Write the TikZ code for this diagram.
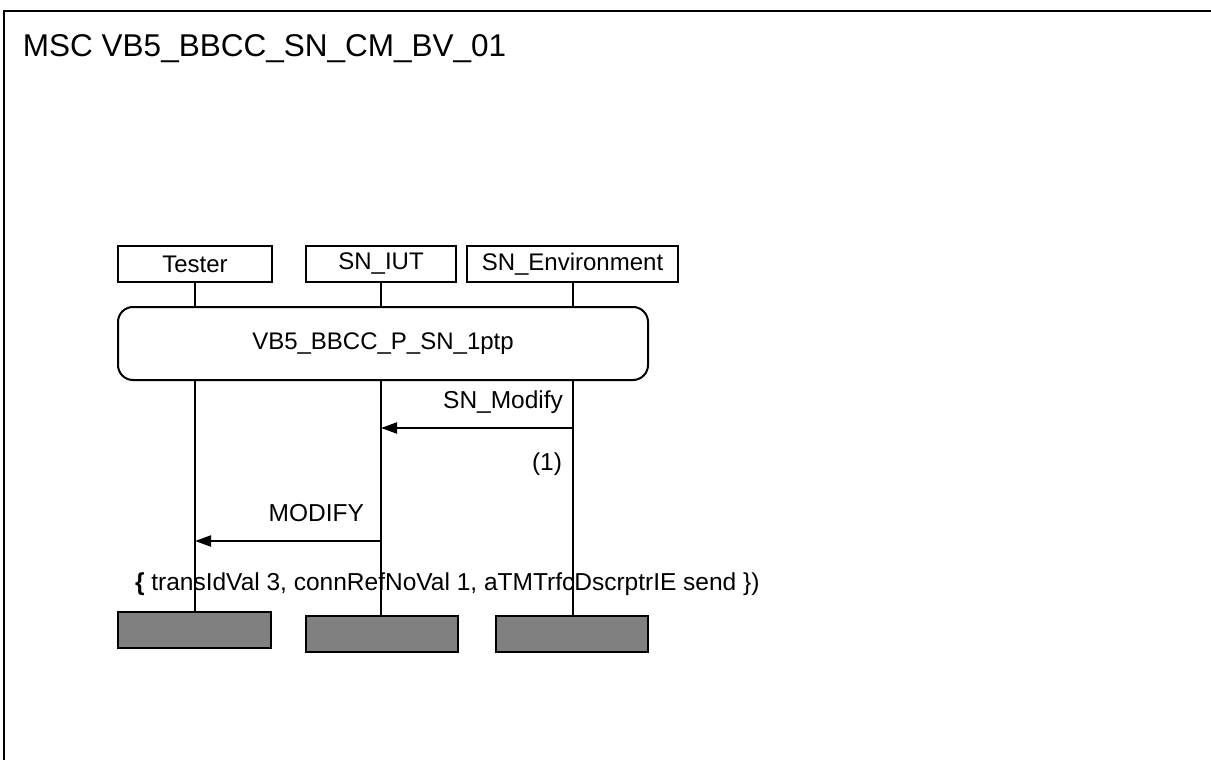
\documentclass[tikz,border=0pt]{standalone}
\usepackage{fontspec}
\setmainfont{Liberation Sans}
\usetikzlibrary{arrows.meta}
\begin{document}
\begin{tikzpicture}[x=1pt,y=-1pt,line width=2pt,
  lbl/.style={font=\fontsize{24.5}{28}\selectfont, inner sep=0pt},
  inst/.style={draw, minimum height=36pt, inner sep=0pt, font=\fontsize{24}{28}\selectfont},
  endbox/.style={draw, fill=black!50, minimum height=36pt, inner sep=0pt},
  refbox/.style={draw, rounded corners=15pt, minimum width=530pt, minimum height=73pt, inner sep=0pt, font=\fontsize{24}{28}\selectfont},
  msg/.style={-{Triangle[length=16pt,width=11pt]}}]
\useasboundingbox (0,0) rectangle (1211,760);
\draw[line width=2.5pt] (4,760) -- (4,11) -- (1211,11);
\node[anchor=base west, inner sep=0pt, font=\fontsize{31.5}{36}\selectfont] (title) at (22,57) {MSC VB5\_BBCC\_SN\_CM\_BV\_01};
% instances
\node[inst, minimum width=154pt] (tester) at (195,264) {Tester};
\node[inst, minimum width=150pt] (iut) at (381,264) {SN\_IUT};
\node[inst, minimum width=211pt] (env) at (572.5,264) {SN\_Environment};
% reference
\node[refbox] (ref) at (383,343.5) {VB5\_BBCC\_P\_SN\_1ptp};
% end boxes
\node[endbox, minimum width=153pt] (tend) at (194.5,630) {};
\node[endbox, minimum width=152pt] (iend) at (382,634) {};
\node[endbox, minimum width=152pt] (eend) at (572,634) {};
% lifelines
\draw (tester.south) -- (ref.north -| tester);
\draw (iut.south) -- (ref.north -| iut);
\draw (env.south) -- (ref.north -| env);
\draw (ref.south -| tester) -- (tend.north -| tester);
\draw (ref.south -| iut) -- (iend.north -| iut);
\draw (ref.south -| env) -- (eend.north -| env);
% messages
\coordinate (m1s) at (572.5,428);
\coordinate (m1e) at (381,428);
\draw[msg] (m1s) -- (m1e);
\node[lbl, anchor=base east] (m1lbl) at (564,408) {SN\_Modify};
\node[lbl, anchor=base east] (m1num) at (563,470) {(1)};
\coordinate (m2s) at (381,541);
\coordinate (m2e) at (195,541);
\draw[msg] (m2s) -- (m2e);
\node[lbl, anchor=base east] (m2lbl) at (365,521) {MODIFY};
\node[lbl, anchor=base west] (m2par) at (134,590) {\textbf{\{} transIdVal 3, connRefNoVal 1, aTMTrfcDscrptrIE send \})};
\end{tikzpicture}
\end{document}
